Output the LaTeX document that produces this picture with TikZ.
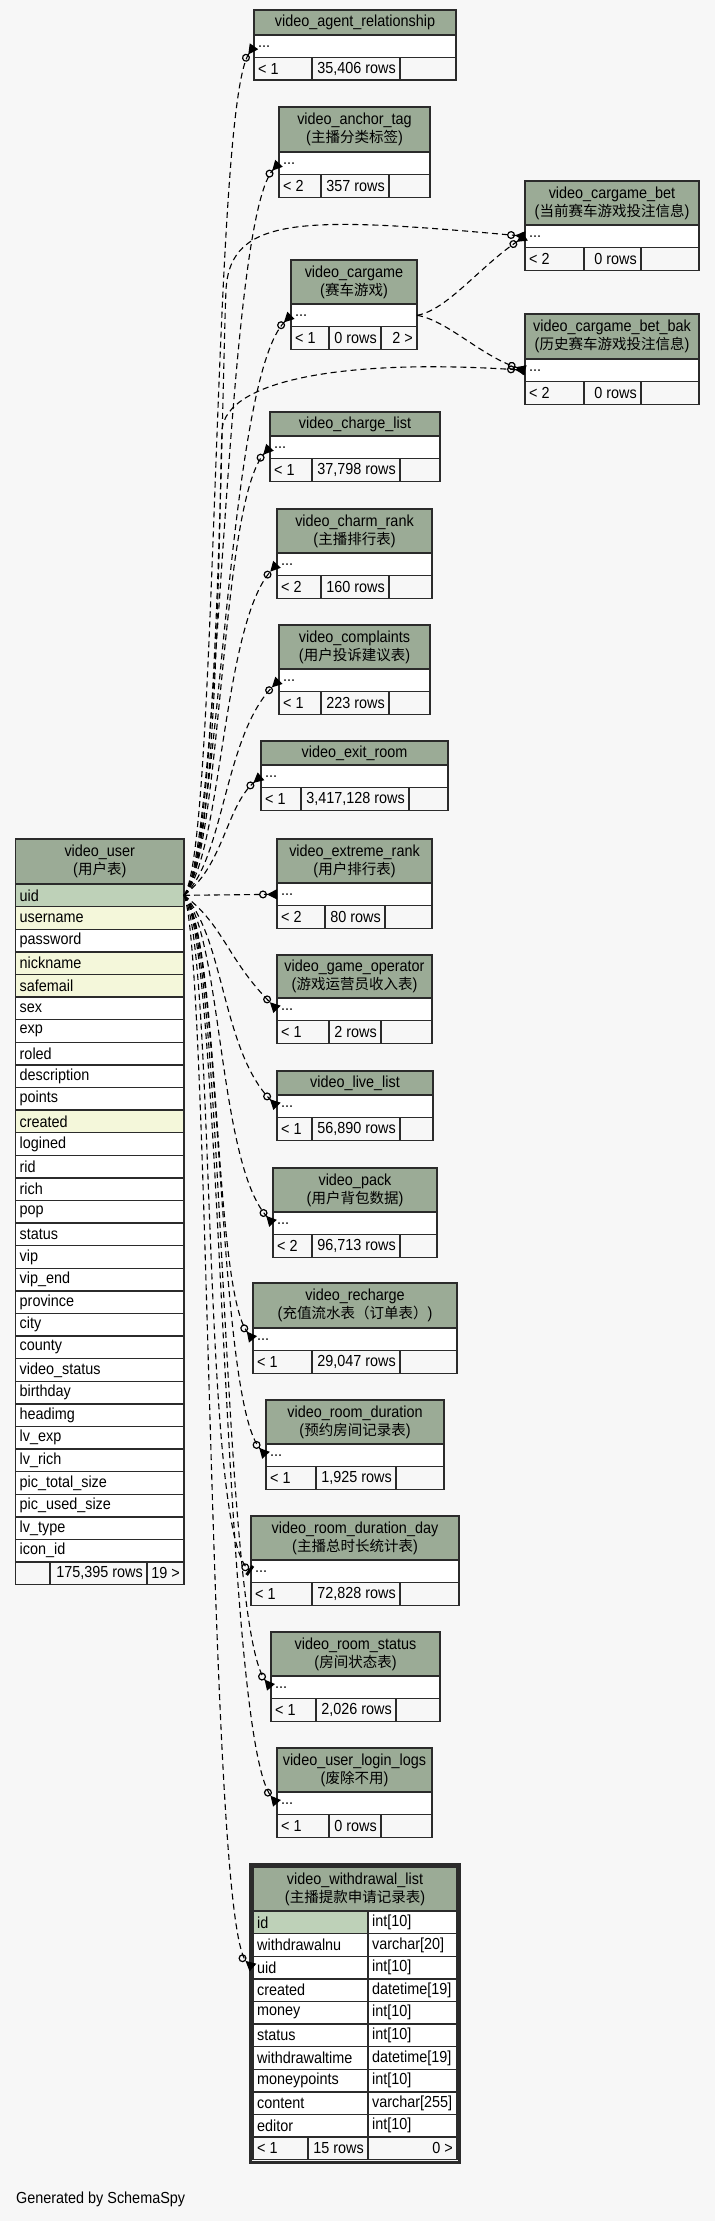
\documentclass[tikz,border=0pt]{standalone}
\usepackage{fontspec}
\setmainfont{Liberation Sans}[FakeStretch=0.9]
\newfontfamily\cjk{Noto Sans CJK SC}
\usetikzlibrary{arrows.meta}

\definecolor{bgcol}{HTML}{F7F7F7}
\definecolor{headcol}{HTML}{9BAB96}
\definecolor{pkcol}{HTML}{BED1B8}
\definecolor{idxcol}{HTML}{F4F7DA}
\definecolor{edgecol}{HTML}{2B2B2B}

\newcommand{\zhs}[1]{{\cjk\fontsize{14.5}{18}\selectfont #1}}

\tikzset{
 cellbox/.style={draw=edgecol, line width=1.4pt, anchor=north west, inner sep=0pt, outer sep=0pt, minimum height=22.6pt},
 lefttext/.style={anchor=west, inner xsep=4pt, inner ysep=0pt},
 righttext/.style={anchor=east, inner xsep=4pt, inner ysep=0pt},
 fk/.style={line width=1.1pt, dash pattern=on 6pt off 4pt},
 crowfoot/.style={-{Circle[open,length=8pt,width=8pt,line width=1.2pt] Triangle[reversed,length=10pt,width=10pt]}},
 zeroone/.style={-{Circle[open,length=8pt,width=8pt,line width=1.2pt] Bar[width=11pt,line width=3pt]}},
}

\begin{document}
\begin{tikzpicture}[x=1pt,y=-1pt,every node/.style={font=\fontsize{16}{18}\selectfont}]
\fill[bgcol] (0,0) rectangle (715,2221);
\useasboundingbox (0,0) rectangle (715,2221);

% small tables: header, "..." row, footer
\foreach \id/\xa/\xb/\xc/\xd/\ya/\yb/\ti/\lo/\nr/\hi in {
 agent/254/312/400/456/10/35/{video\_agent\_relationship}/{< 1}/{35,406 rows}/{},
 tag/279/321/389/430/107/152/{video\_anchor\_tag\\(\zhs{主播分类标签})}/{< 2}/{357 rows}/{},
 bet/525/584/641/699/181/225/{video\_cargame\_bet\\(\zhs{当前赛车游戏投注信息})}/{< 2}/{0 rows}/{},
 cargame/291/329/381/417/260/304/{video\_cargame\\(\zhs{赛车游戏})}/{< 1}/{0 rows}/{2 >},
 betbak/525/584/641/699/314/359/{video\_cargame\_bet\_bak\\(\zhs{历史赛车游戏投注信息})}/{< 2}/{0 rows}/{},
 charge/270/312/400/440/412/436/{video\_charge\_list}/{< 1}/{37,798 rows}/{},
 charm/277/321/389/432/509/553/{video\_charm\_rank\\(\zhs{主播排行表})}/{< 2}/{160 rows}/{},
 complaints/279/321/389/430/625/669/{video\_complaints\\(\zhs{用户投诉建议表})}/{< 1}/{223 rows}/{},
 exitroom/261/301/409/448/741/765/{video\_exit\_room}/{< 1}/{3,417,128 rows}/{},
 extreme/277/325/385/432/839/883/{video\_extreme\_rank\\(\zhs{用户排行表})}/{< 2}/{80 rows}/{},
 operator/277/329/381/432/955/998/{video\_game\_operator\\(\zhs{游戏运营员收入表})}/{< 1}/{2 rows}/{},
 live/277/312/400/433/1071/1095/{video\_live\_list}/{< 1}/{56,890 rows}/{},
 pack/273/312/400/437/1168/1212/{video\_pack\\(\zhs{用户背包数据})}/{< 2}/{96,713 rows}/{},
 recharge/253/312/400/457/1283/1328/{video\_recharge\\(\zhs{充值流水表（订单表）})}/{< 1}/{29,047 rows}/{},
 roomdur/266/316/396/444/1400/1444/{video\_room\_duration\\(\zhs{预约房间记录表})}/{< 1}/{1,925 rows}/{},
 roomday/251/312/400/459/1516/1560/{video\_room\_duration\_day\\(\zhs{主播总时长统计表})}/{< 1}/{72,828 rows}/{},
 roomstatus/271/316/396/440/1632/1676/{video\_room\_status\\(\zhs{房间状态表})}/{< 1}/{2,026 rows}/{},
 loginlogs/277/329/381/432/1748/1792/{video\_user\_login\_logs\\(\zhs{废除不用})}/{< 1}/{0 rows}/{}
}{
 \node[cellbox, fill=headcol, minimum width={\xd-\xa}, minimum height={\yb-\ya}, align=center] (\id) at (\xa,\ya) {\ti};
 \node[cellbox, fill=white, minimum width={\xd-\xa}, label={[lefttext]west:...}] (\id-dots) at (\xa,\yb) {};
 \node[cellbox, fill=bgcol, minimum width={\xb-\xa}, label={[lefttext]west:\lo}] (\id-lo) at (\xa,\yb+22.6) {};
 \node[cellbox, fill=bgcol, minimum width={\xc-\xb}, label={[righttext]east:\nr}] (\id-nr) at (\xb,\yb+22.6) {};
 \node[cellbox, fill=bgcol, minimum width={\xd-\xc}, label={[righttext]east:\hi}] (\id-hi) at (\xc,\yb+22.6) {};
}

% video_user
\node[cellbox, fill=headcol, minimum width=168.5, minimum height=45, align=center] (user) at (15.5,839) {video\_user\\(\zhs{用户表})};
\node[cellbox, fill=pkcol, minimum width=168.5, label={[lefttext]west:uid}] (user-uid) at (15.5,884) {};
\foreach \c/\f [count=\i] in {username/idxcol, password/white, nickname/idxcol, safemail/idxcol, sex/white, exp/white, roled/white, description/white, points/white, created/idxcol, logined/white, rid/white, rich/white, pop/white, status/white, vip/white, {vip\_end}/white, province/white, city/white, county/white, {video\_status}/white, birthday/white, headimg/white, {lv\_exp}/white, {lv\_rich}/white, {pic\_total\_size}/white, {pic\_used\_size}/white, {lv\_type}/white, {icon\_id}/white}
 \node[cellbox, fill=\f, minimum width=168.5, label={[lefttext]west:\c}] (user-\i) at (15.5,884+22.6*\i) {};
\node[cellbox, fill=bgcol, minimum width=34.5] (user-lo) at (15.5,1562) {};
\node[cellbox, fill=bgcol, minimum width=97, label={[righttext]east:175,395 rows}] (user-nr) at (50,1562) {};
\node[cellbox, fill=bgcol, minimum width=37, label={[righttext]east:19 >}] (user-hi) at (147,1562) {};

% video_withdrawal_list
\draw[line width=3pt, draw=edgecol] (250.5,1864.5) rectangle (459.5,2162.5);
\node[cellbox, fill=headcol, minimum width=204, minimum height=44, align=center] (wd) at (253,1867) {video\_withdrawal\_list\\(\zhs{主播提款申请记录表})};
\foreach \c/\ty/\f [count=\i from 0] in {id/{int[10]}/pkcol, withdrawalnu/{varchar[20]}/white, uid/{int[10]}/white, created/{datetime[19]}/white, money/{int[10]}/white, status/{int[10]}/white, withdrawaltime/{datetime[19]}/white, moneypoints/{int[10]}/white, content/{varchar[255]}/white, editor/{int[10]}/white}{
 \node[cellbox, fill=\f, minimum width=115, label={[lefttext]west:\c}] (wd-\c) at (253,1911+22.6*\i) {};
 \node[cellbox, fill=white, minimum width=89, label={[lefttext]west:{\ty}}] (wd-\c-type) at (368,1911+22.6*\i) {};
}
\node[cellbox, fill=bgcol, minimum width=55, label={[lefttext]west:< 1}] (wd-lo) at (253,2137) {};
\node[cellbox, fill=bgcol, minimum width=60, label={[righttext]east:15 rows}] (wd-nr) at (308,2137) {};
\node[cellbox, fill=bgcol, minimum width=89, label={[righttext]east:0 >}] (wd-hi) at (368,2137) {};

% relationships from video_user.uid
\foreach \id/\ax/\ay/\bx/\by in {agent/34/-45/-42/60, tag/36/-40/-55/60, cargame/36/-40/-65/65, charge/38/-40/-50/55, charm/38/-38/-55/60, complaints/40/-35/-55/55, exitroom/40/-30/-35/30, operator/40/30/-50/-50, live/40/40/-55/-55, pack/38/40/-55/-60, recharge/36/40/-40/-50, roomdur/38/40/-50/-55, roomstatus/40/40/-50/-60, loginlogs/38/40/-55/-65}
 \draw[fk,crowfoot] (user-uid.east) .. controls +(\ax,\ay) and +(\bx,\by) .. (\id-dots.west);
\draw[fk,crowfoot] (user-uid.east) -- (extreme-dots.west);
\draw[fk,zeroone] (user-uid.east) .. controls +(32,60) and +(-50,-35) .. (roomday-dots.west);
\draw[fk,crowfoot] (user-uid.east) .. controls +(26,60) and +(-45,-40) .. (wd-uid.west);

\coordinate (betbend) at (226,290);
\coordinate (betbakbend) at (222,430);
\draw[fk,crowfoot] (user-uid.east) .. controls +(34,-30) and +(-4,90) .. (betbend) .. controls +(4,-75) and +(-220,-20) .. (bet-dots.west);
\draw[fk,crowfoot] (user-uid.east) .. controls +(34,-30) and +(-3,80) .. (betbakbend) .. controls +(4,-50) and +(-180,-12) .. (betbak-dots.west);

% video_cargame to the bet tables
\draw[fk,crowfoot] (cargame-dots.east) .. controls +(30,-5) and +(-45,30) .. (bet-dots.west);
\draw[fk,crowfoot] (cargame-dots.east) .. controls +(30,5) and +(-45,-15) .. (betbak-dots.west);

\node[anchor=west, inner sep=0pt] (credit) at (16,2199) {Generated by SchemaSpy};
\end{tikzpicture}
\end{document}
